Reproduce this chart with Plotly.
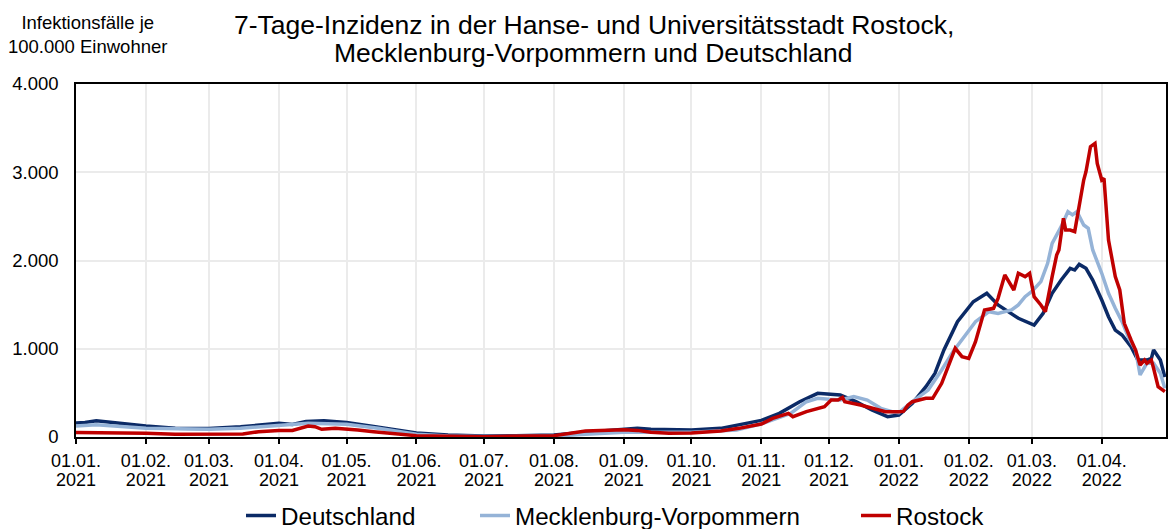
import plotly.graph_objects as go

# ---------------- data ----------------
de_dates = ["2021-01-01","2021-01-05","2021-01-10","2021-01-18","2021-02-01","2021-02-14","2021-03-01","2021-03-15",
            "2021-03-27","2021-04-01","2021-04-07","2021-04-13","2021-04-21","2021-05-01","2021-05-13","2021-05-22",
            "2021-06-01","2021-06-15","2021-07-01","2021-07-15","2021-08-01","2021-08-15","2021-09-01","2021-09-07",
            "2021-09-13","2021-10-01","2021-10-14","2021-10-22","2021-11-01","2021-11-09","2021-11-18","2021-11-26",
            "2021-12-01","2021-12-06","2021-12-13","2021-12-20","2021-12-27","2022-01-01","2022-01-07","2022-01-13",
            "2022-01-17","2022-01-21","2022-01-27","2022-02-03","2022-02-09","2022-02-14","2022-02-23","2022-03-02",
            "2022-03-06","2022-03-10","2022-03-14","2022-03-18","2022-03-20","2022-03-22","2022-03-25","2022-03-28",
            "2022-04-01","2022-04-04","2022-04-07","2022-04-10","2022-04-14","2022-04-17","2022-04-21","2022-04-23",
            "2022-04-24","2022-04-27","2022-04-29"]
de_values = [160,165,185,160,125,100,95,115,
             150,155,142,175,185,165,120,80,
             45,22,11,14,23,53,90,98,
             87,79,98,136,188,268,400,495,
             487,476,400,306,230,249,381,570,
             721,986,1307,1533,1628,1496,1345,1269,
             1401,1628,1779,1911,1892,1956,1911,1779,
             1552,1363,1212,1156,1024,872,872,891,
             986,872,680]

mv_dates = ["2021-01-01","2021-01-10","2021-02-01","2021-03-01","2021-03-15","2021-04-01","2021-04-14","2021-05-01",
            "2021-05-15","2021-06-01","2021-06-15","2021-07-01","2021-08-01","2021-08-15","2021-09-01","2021-10-01",
            "2021-10-21","2021-11-01","2021-11-14","2021-11-21","2021-11-26","2021-12-01","2021-12-06","2021-12-12",
            "2021-12-18","2021-12-24","2021-12-29","2022-01-01","2022-01-07","2022-01-14","2022-01-20","2022-01-25",
            "2022-01-31","2022-02-04","2022-02-10","2022-02-14","2022-02-20","2022-02-23","2022-02-26","2022-03-01",
            "2022-03-05","2022-03-08","2022-03-10","2022-03-14","2022-03-17","2022-03-19","2022-03-21","2022-03-24",
            "2022-03-26","2022-03-28","2022-04-01","2022-04-04","2022-04-07","2022-04-10","2022-04-13","2022-04-16",
            "2022-04-18","2022-04-21","2022-04-24","2022-04-27","2022-04-29"]
mv_values = [125,140,98,87,100,128,155,144,
             100,30,10,5,10,30,53,53,
             79,150,268,400,438,427,419,457,
             419,325,287,275,400,532,759,967,
             1175,1307,1420,1401,1439,1496,1590,1650,
             1760,1968,2194,2383,2553,2516,2553,2402,
             2364,2119,1855,1628,1458,1307,1118,986,
             703,835,835,721,551]

hro_dates = ["2021-01-01","2021-01-15","2021-02-01","2021-02-14","2021-03-01","2021-03-16","2021-03-23","2021-04-01",
             "2021-04-07","2021-04-11","2021-04-14","2021-04-17","2021-04-20","2021-04-26","2021-05-01","2021-05-06",
             "2021-05-13","2021-05-20","2021-06-01","2021-07-01","2021-08-01","2021-08-15","2021-08-20","2021-09-01",
             "2021-09-07","2021-09-13","2021-09-21","2021-10-01","2021-10-14","2021-10-22","2021-11-01","2021-11-06",
             "2021-11-13","2021-11-15","2021-11-21","2021-11-29","2021-12-02","2021-12-05","2021-12-07","2021-12-08",
             "2021-12-15","2021-12-20","2021-12-26","2022-01-01","2022-01-03","2022-01-05","2022-01-07","2022-01-13",
             "2022-01-16","2022-01-20","2022-01-23","2022-01-26","2022-01-29","2022-02-01","2022-02-04","2022-02-08",
             "2022-02-12","2022-02-14","2022-02-17","2022-02-21","2022-02-23","2022-02-26","2022-02-28","2022-03-02",
             "2022-03-05","2022-03-07","2022-03-10","2022-03-12","2022-03-13","2022-03-15","2022-03-16","2022-03-18",
             "2022-03-20","2022-03-22","2022-03-24","2022-03-25","2022-03-27","2022-03-29","2022-03-30","2022-04-01",
             "2022-04-02","2022-04-04","2022-04-07","2022-04-09","2022-04-11","2022-04-14","2022-04-16","2022-04-18",
             "2022-04-20","2022-04-21","2022-04-23","2022-04-24","2022-04-26","2022-04-29"]
hro_values = [50,50,42,30,34,34,60,75,
              75,106,125,117,87,98,91,79,
              60,42,15,4,15,68,72,83,
              75,53,42,45,68,98,147,211,
              268,230,287,344,419,419,449,400,
              363,325,287,287,290,360,400,438,
              438,608,797,1005,910,891,1080,1439,
              1458,1571,1836,1666,1855,1817,1855,1590,
              1496,1420,1817,2062,2119,2478,2345,2345,
              2327,2648,2912,3006,3290,3327,3101,2912,
              2931,2232,1817,1666,1288,1099,986,816,
              872,835,872,778,570,514]

tick_dates = ["2021-01-01","2021-02-01","2021-03-01","2021-04-01","2021-05-01","2021-06-01","2021-07-01","2021-08-01",
              "2021-09-01","2021-10-01","2021-11-01","2021-12-01","2022-01-01","2022-02-01","2022-03-01","2022-04-01"]
tick_daymonth = ["01.01.","01.02.","01.03.","01.04.","01.05.","01.06.","01.07.","01.08.",
                 "01.09.","01.10.","01.11.","01.12.","01.01.","01.02.","01.03.","01.04."]
tick_years = ["2021"] * 12 + ["2022"] * 4

y_ticks = [0, 1000, 2000, 3000, 4000]

title_lines = ["7-Tage-Inzidenz in der Hanse- und Universitätsstadt Rostock,",
               "Mecklenburg-Vorpommern und Deutschland"]
y_title = "Infektionsfälle je<br>100.000 Einwohner"

FONT = "Liberation Sans, Arial, sans-serif"
X_RANGE = ["2021-01-01", "2022-04-29 12:00"]
W, H = 1168, 529

fig = go.Figure()
fig.add_trace(go.Scatter(x=de_dates, y=de_values, mode="lines", name="Deutschland", legend="legend",
                         line=dict(color="#0b2a66", width=3.5)))
fig.add_trace(go.Scatter(x=mv_dates, y=mv_values, mode="lines", name="Mecklenburg-Vorpommern", legend="legend2",
                         line=dict(color="#95b3d7", width=3.5)))
fig.add_trace(go.Scatter(x=hro_dates, y=hro_values, mode="lines", name="Rostock", legend="legend3",
                         line=dict(color="#c00000", width=3.5)))
# invisible helper trace so that the second (year) label axis is rendered
fig.add_trace(go.Scatter(x=[X_RANGE[0]], y=[None], xaxis="x2", mode="lines",
                         showlegend=False, hoverinfo="skip"))

def legend_at(px_left):
    return dict(orientation="h", xref="container", x=px_left / W, xanchor="left",
                yref="container", y=0.025, yanchor="middle",
                font=dict(size=24.2, family=FONT), bgcolor="rgba(0,0,0,0)")

fig.update_layout(
    width=W, height=H,
    margin=dict(l=76, r=2, t=84, b=92),
    paper_bgcolor="white", plot_bgcolor="white",
    separators=",.",
    font=dict(family=FONT, color="black"),
    showlegend=True,
    legend=legend_at(241),
    legend2=legend_at(475),
    legend3=legend_at(856),
    xaxis=dict(
        type="date", range=X_RANGE, automargin=False,
        tickvals=tick_dates, ticktext=tick_daymonth, tickangle=0,
        tickfont=dict(size=18, family=FONT),
        ticks="outside", ticklen=5, tickwidth=1.5, tickcolor="black", ticklabelstandoff=2,
        showgrid=True, gridcolor="#ebebeb", gridwidth=1.5,
        showline=True, linecolor="black", linewidth=1.5, mirror=True,
        zeroline=False,
    ),
    xaxis2=dict(
        type="date", range=X_RANGE, matches="x", overlaying="x", anchor="y", side="bottom",
        automargin=False,
        tickvals=tick_dates, ticktext=tick_years, tickangle=0,
        tickfont=dict(size=18, family=FONT),
        ticks="", ticklabelstandoff=30,
        showgrid=False, showline=False, zeroline=False,
    ),
    yaxis=dict(
        range=[0, 4000], automargin=False,
        tickvals=y_ticks, tickformat=",.0f",
        tickfont=dict(size=18.5, family=FONT),
        ticks="", ticklabelstandoff=12,
        showgrid=True, gridcolor="#ebebeb", gridwidth=1.5,
        showline=True, linecolor="black", linewidth=1.5, mirror=True,
        zeroline=False,
    ),
)

fig.add_annotation(text=title_lines[0], xref="paper", yref="paper", x=0.4752, y=1.167,
                   xanchor="center", yanchor="middle", showarrow=False,
                   font=dict(size=26.5, family=FONT, color="black"))
fig.add_annotation(text=title_lines[1], xref="paper", yref="paper", x=0.4752, y=1.088,
                   xanchor="center", yanchor="middle", showarrow=False,
                   font=dict(size=26.5, family=FONT, color="black"))
fig.add_annotation(text=y_title, xref="paper", yref="paper", x=0.0101, y=1.1416,
                   xanchor="center", yanchor="middle", showarrow=False, align="center",
                   font=dict(size=18.5, family=FONT, color="black"))

# remove the browser's default 8px page margin so the figure fills the window exactly
fig.write_html("out.html", config={"displayModeBar": False},
               post_script="document.body.style.margin='0';document.body.style.overflow='hidden';")
